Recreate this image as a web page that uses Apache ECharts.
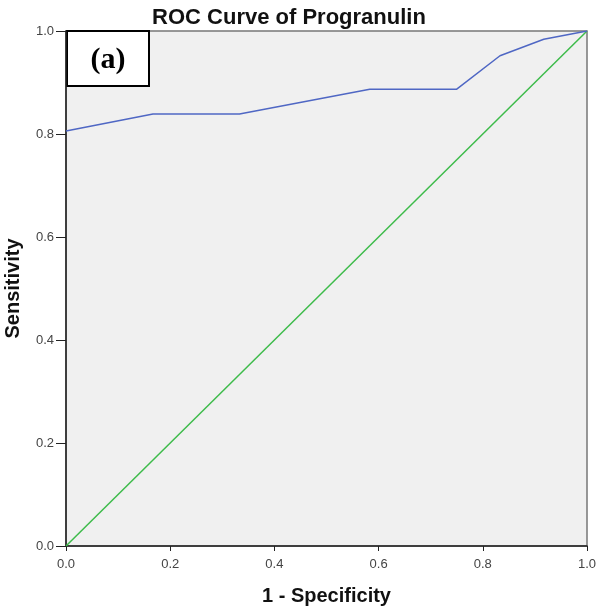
<!DOCTYPE html>
<html>
<head>
<meta charset="utf-8">
<script src="https://cdn.jsdelivr.net/npm/echarts@6/dist/echarts.min.js"></script>
<style>
    html, body { margin: 0; padding: 0; background: #fff; }
    #rocChart { width: 600px; height: 610px; }
</style>
</head>
<body>
<div id="rocChart"></div>
<script>
    /* ------ data ------ */
    var specFalse = [0, 0.167, 0.333, 0.583, 0.75, 0.833, 0.917, 1];   // 1 - specificity
    var sensitivity = [0.806, 0.839, 0.839, 0.887, 0.887, 0.952, 0.984, 1];
    var refLine = [[0, 0], [1, 1]];
    var tickLabels = ['0.0', '0.2', '0.4', '0.6', '0.8', '1.0'];

    var rocChart = echarts.init(document.getElementById('rocChart'));

    var curve = specFalse.map(function (x, i) { return [x, sensitivity[i]]; });

    function fmt(v) {
        return tickLabels[Math.round(v * 5)];
    }

    var option = {
        animation: false,
        title: {
            text: 'ROC Curve of Progranulin',
            left: 284,
            textAlign: 'center',
            top: 2,
            textStyle: { fontFamily: 'Liberation Sans', fontSize: 22, fontWeight: 'bold', color: '#111' }
        },
        grid: {
            left: 66, right: 13, top: 31, bottom: 64,
            outerBoundsMode: 'none',
            show: true,
            backgroundColor: '#f0f0f0',
            borderColor: '#777',
            borderWidth: 1.5
        },
        xAxis: {
            type: 'value',
            min: 0, max: 1, interval: 0.2,
            name: '1 - Specificity',
            nameLocation: 'middle',
            nameGap: 40,
            nameTextStyle: { fontFamily: 'Liberation Sans', fontSize: 20, fontWeight: 'bold', color: '#111' },
            axisLine: { show: true, lineStyle: { color: '#222', width: 1.5 } },
            axisTick: { show: true, length: 5, lineStyle: { color: '#222' } },
            axisLabel: { formatter: fmt, fontFamily: 'Liberation Sans', fontSize: 13, color: '#444', margin: 12 },
            splitLine: { show: false }
        },
        yAxis: {
            type: 'value',
            min: 0, max: 1, interval: 0.2,
            name: 'Sensitivity',
            nameLocation: 'middle',
            nameGap: 43,
            nameTextStyle: { fontFamily: 'Liberation Sans', fontSize: 20, fontWeight: 'bold', color: '#111' },
            axisLine: { show: true, lineStyle: { color: '#222', width: 1.5 } },
            axisTick: { show: true, length: 10, lineStyle: { color: '#222' } },
            axisLabel: { formatter: fmt, fontFamily: 'Liberation Sans', fontSize: 13, color: '#444', margin: 12 },
            splitLine: { show: false }
        },
        series: [
            {
                name: 'Reference',
                type: 'line',
                data: refLine,
                symbol: 'none',
                lineStyle: { color: '#3dbb4a', width: 1.5 },
                z: 2
            },
            {
                name: 'Progranulin',
                type: 'line',
                data: curve,
                symbol: 'none',
                lineStyle: { color: '#4f67c4', width: 1.5 },
                z: 3
            }
        ],
        graphic: [
            {
                type: 'group',
                left: 66, top: 30,
                z: 10,
                children: [
                    {
                        type: 'rect',
                        shape: { x: 0, y: 0, width: 82, height: 55 },
                        style: { fill: '#fff', stroke: '#000', lineWidth: 2 }
                    },
                    {
                        type: 'text',
                        x: 41, y: 29,
                        style: {
                            text: '(a)',
                            fontFamily: 'Liberation Serif',
                            fontSize: 30,
                            fontWeight: 'bold',
                            fill: '#000',
                            align: 'center',
                            verticalAlign: 'middle'
                        }
                    }
                ]
            }
        ]
    };
    rocChart.setOption(option);
</script>
</body>
</html>
